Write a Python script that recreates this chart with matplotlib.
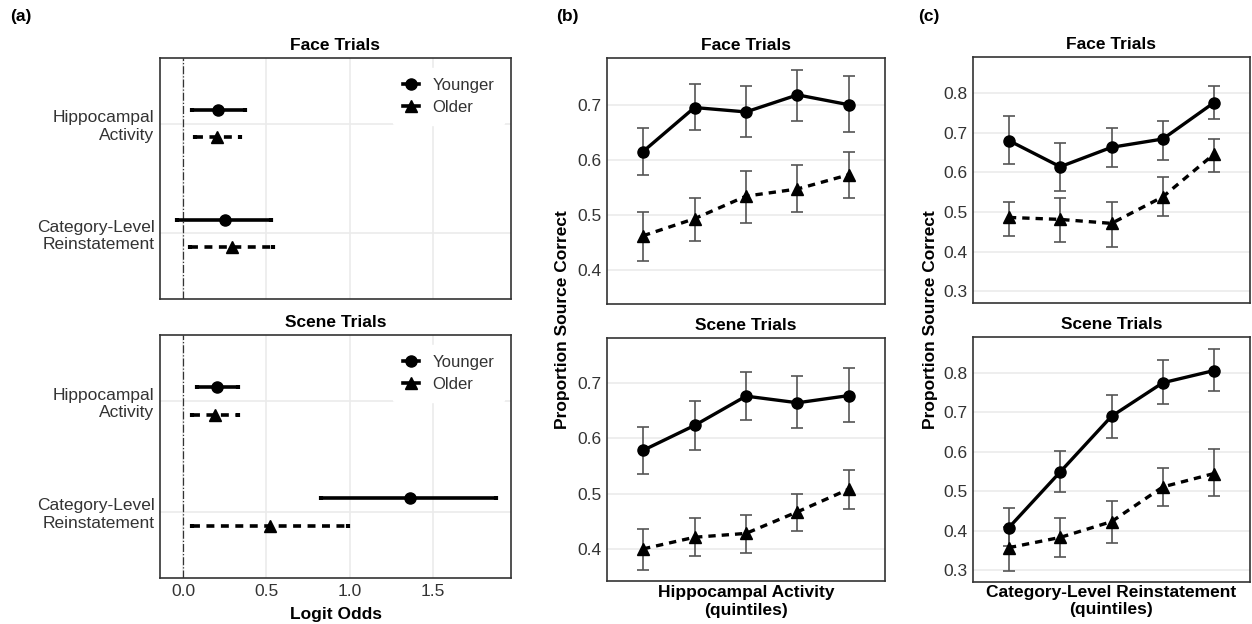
import matplotlib
matplotlib.use("Agg")
import matplotlib.pyplot as plt
from matplotlib.lines import Line2D

plt.rcParams['font.family'] = ['Liberation Sans', 'DejaVu Sans']

# ---- panel (a): logit odds ----
a_labels = ["Hippocampal\nActivity", "Category-Level\nReinstatement"]
a_ypos = [2, 1]
# face trials: [hippocampal, category]
a_face_young = [0.21, 0.25]
a_face_young_lo = [0.05, -0.04]
a_face_young_hi = [0.37, 0.53]
a_face_old = [0.20, 0.29]
a_face_old_lo = [0.07, 0.04]
a_face_old_hi = [0.34, 0.54]
# scene trials
a_scene_young = [0.20, 1.36]
a_scene_young_lo = [0.08, 0.83]
a_scene_young_hi = [0.33, 1.88]
a_scene_old = [0.19, 0.52]
a_scene_old_lo = [0.05, 0.05]
a_scene_old_hi = [0.33, 0.99]

# ---- panels (b), (c): quintiles ----
quint = [1, 2, 3, 4, 5]

b_face_young = [0.615, 0.695, 0.687, 0.718, 0.700]
b_face_young_lo = [0.572, 0.655, 0.641, 0.670, 0.650]
b_face_young_hi = [0.658, 0.738, 0.735, 0.764, 0.752]
b_face_old = [0.462, 0.493, 0.534, 0.547, 0.573]
b_face_old_lo = [0.416, 0.452, 0.486, 0.505, 0.531]
b_face_old_hi = [0.505, 0.531, 0.580, 0.590, 0.615]

b_scene_young = [0.578, 0.623, 0.676, 0.664, 0.677]
b_scene_young_lo = [0.536, 0.579, 0.633, 0.619, 0.630]
b_scene_young_hi = [0.621, 0.668, 0.720, 0.712, 0.726]
b_scene_old = [0.400, 0.421, 0.428, 0.467, 0.508]
b_scene_old_lo = [0.362, 0.387, 0.393, 0.432, 0.472]
b_scene_old_hi = [0.436, 0.456, 0.461, 0.500, 0.542]

c_face_young = [0.680, 0.614, 0.663, 0.684, 0.776]
c_face_young_lo = [0.621, 0.553, 0.613, 0.632, 0.734]
c_face_young_hi = [0.741, 0.673, 0.711, 0.730, 0.817]
c_face_old = [0.486, 0.481, 0.471, 0.538, 0.646]
c_face_old_lo = [0.438, 0.423, 0.411, 0.489, 0.600]
c_face_old_hi = [0.525, 0.534, 0.524, 0.588, 0.683]

c_scene_young = [0.408, 0.549, 0.690, 0.775, 0.806]
c_scene_young_lo = [0.360, 0.498, 0.636, 0.721, 0.755]
c_scene_young_hi = [0.457, 0.602, 0.745, 0.832, 0.860]
c_scene_old = [0.357, 0.383, 0.423, 0.511, 0.545]
c_scene_old_lo = [0.297, 0.333, 0.369, 0.462, 0.489]
c_scene_old_hi = [0.410, 0.433, 0.475, 0.558, 0.606]

W, H = 1252, 624
fig = plt.figure(figsize=(W / 100, H / 100), dpi=100)

TXT = '#333333'
GRID = '#ebebeb'


def add_ax(x0, y0, x1, y1):
    ax = fig.add_axes([x0 / W, 1 - y1 / H, (x1 - x0) / W, (y1 - y0) / H])
    for s in ax.spines.values():
        s.set_color('#333333')
        s.set_linewidth(1.2)
    ax.tick_params(length=0, labelsize=12.5, labelcolor=TXT, pad=4)
    ax.set_axisbelow(True)
    return ax


def forest(ax, title, yv, ylo, yhi, ov, olo, ohi, show_x):
    ax.set_xlim(-0.14, 1.97)
    ax.set_ylim(0.4, 2.6)
    ax.set_xticks([0.0, 0.5, 1.0, 1.5])
    ax.set_xticklabels(['0.0', '0.5', '1.0', '1.5'] if show_x else [])
    ax.set_yticks(a_ypos)
    ax.set_yticklabels(a_labels, fontsize=12.5, color=TXT)
    ax.grid(True, color=GRID, lw=1.2)
    ax.axvline(0, color='#333333', lw=0.9, ls='-.')
    d = 0.125
    yy = [p + d for p in a_ypos]
    yo = [p - d for p in a_ypos]
    ax.errorbar(yv, yy, xerr=[[v - l for v, l in zip(yv, ylo)], [h - v for v, h in zip(yv, yhi)]],
                fmt='o', color='black', ms=8, elinewidth=2.6, capsize=1.5, capthick=3)
    eb = ax.errorbar(ov, yo, xerr=[[v - l for v, l in zip(ov, olo)], [h - v for v, h in zip(ov, ohi)]],
                     fmt='^', color='black', ms=8, elinewidth=2.6, capsize=1.5, capthick=3)
    eb[2][0].set_linestyle((0, (2.2, 1.8)))
    ax.set_title(title, fontsize=12.5, fontweight='bold', pad=6)
    handles = [Line2D([], [], color='black', marker='o', ms=8, lw=2.6),
               Line2D([], [], color='black', marker='^', ms=8, lw=2.6)]
    leg = ax.legend(handles, ['Younger', 'Older'], loc='upper right', bbox_to_anchor=(1.005, 0.995),
                    frameon=True, fontsize=12, handlelength=1.0, handletextpad=0.8,
                    labelspacing=0.45, borderpad=0.6)
    leg.get_frame().set_edgecolor('white')
    leg.get_frame().set_facecolor('white')
    leg.get_frame().set_alpha(1)
    for t in leg.get_texts():
        t.set_color(TXT)


def quint_plot(ax, title, ylim, yticks, yv, ylo, yhi, ov, olo, ohi):
    ax.set_xlim(0.3, 5.7)
    ax.set_ylim(*ylim)
    ax.set_xticks([])
    ax.set_yticks(yticks)
    ax.set_yticklabels([f'{t:.1f}' for t in yticks])
    ax.yaxis.grid(True, color=GRID, lw=1.2)
    for v, lo, hi in [(yv, ylo, yhi), (ov, olo, ohi)]:
        ax.errorbar(quint, v, yerr=[[a - b for a, b in zip(v, lo)], [b - a for a, b in zip(v, hi)]],
                    fmt='none', ecolor='#555555', elinewidth=1.2, capsize=4, capthick=1.2)
    ax.plot(quint, yv, color='black', lw=2.4, marker='o', ms=8)
    ax.plot(quint, ov, color='black', lw=2.4, ls=(0, (2.2, 1.8)), marker='^', ms=8)
    ax.set_title(title, fontsize=12.5, fontweight='bold', pad=6)


# panel (a)
ax = add_ax(160, 58, 511, 299)
forest(ax, 'Face Trials', a_face_young, a_face_young_lo, a_face_young_hi,
       a_face_old, a_face_old_lo, a_face_old_hi, False)
ax = add_ax(160, 335, 511, 578)
forest(ax, 'Scene Trials', a_scene_young, a_scene_young_lo, a_scene_young_hi,
       a_scene_old, a_scene_old_lo, a_scene_old_hi, True)
ax.set_xlabel('Logit Odds', fontsize=12.5, fontweight='bold', labelpad=6)

# panel (b)
ax = add_ax(607, 58, 885, 304)
quint_plot(ax, 'Face Trials', (0.338, 0.785), [0.4, 0.5, 0.6, 0.7],
           b_face_young, b_face_young_lo, b_face_young_hi, b_face_old, b_face_old_lo, b_face_old_hi)
ax = add_ax(607, 338, 885, 581)
quint_plot(ax, 'Scene Trials', (0.342, 0.781), [0.4, 0.5, 0.6, 0.7],
           b_scene_young, b_scene_young_lo, b_scene_young_hi, b_scene_old, b_scene_old_lo, b_scene_old_hi)
ax.set_xlabel('Hippocampal Activity\n(quintiles)', fontsize=12.5, fontweight='bold',
              labelpad=3, linespacing=1.2)

# panel (c)
ax = add_ax(973, 57, 1250, 303)
quint_plot(ax, 'Face Trials', (0.27, 0.891), [0.3, 0.4, 0.5, 0.6, 0.7, 0.8],
           c_face_young, c_face_young_lo, c_face_young_hi, c_face_old, c_face_old_lo, c_face_old_hi)
ax = add_ax(973, 337, 1250, 582)
quint_plot(ax, 'Scene Trials', (0.27, 0.891), [0.3, 0.4, 0.5, 0.6, 0.7, 0.8],
           c_scene_young, c_scene_young_lo, c_scene_young_hi, c_scene_old, c_scene_old_lo, c_scene_old_hi)
ax.set_xlabel('Category-Level Reinstatement\n(quintiles)', fontsize=12.5, fontweight='bold',
              labelpad=2, linespacing=1.2)

# shared y labels and panel letters
fig.text(563 / W, 1 - 320 / H, 'Proportion Source Correct', rotation=90, fontsize=12.5,
         fontweight='bold', ha='center', va='center')
fig.text(930 / W, 1 - 320 / H, 'Proportion Source Correct', rotation=90, fontsize=12.5,
         fontweight='bold', ha='center', va='center')
for x, lab in [(10, '(a)'), (556, '(b)'), (918, '(c)')]:
    fig.text(x / W, 1 - 17 / H, lab, fontsize=12.5, fontweight='bold', ha='left', va='center')

fig.savefig('out.png', dpi=100, facecolor='white')
